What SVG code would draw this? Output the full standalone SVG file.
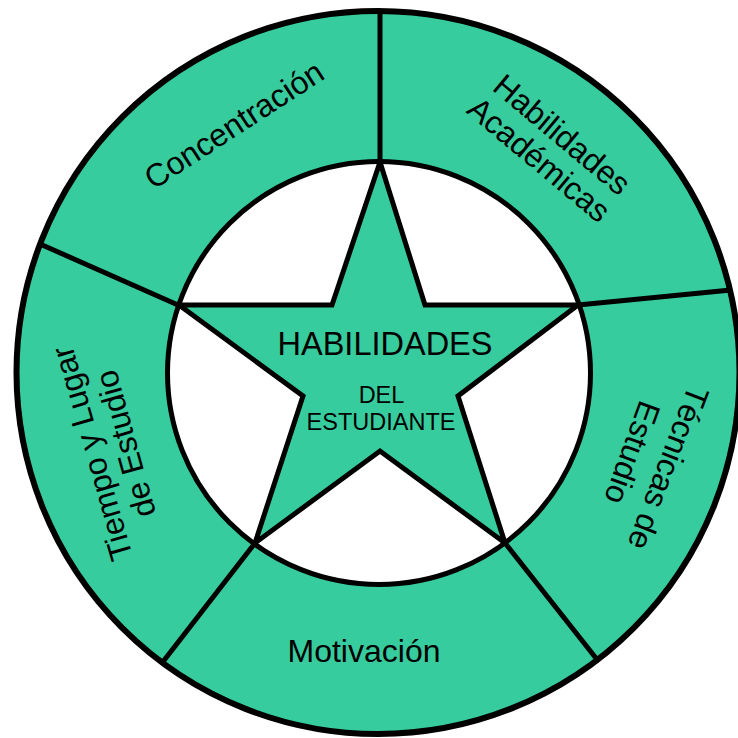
<svg xmlns="http://www.w3.org/2000/svg" width="738" height="738" viewBox="0 0 738 738">
  <style>
    .ring { fill: #37CC9D; stroke: #000; stroke-width: 6; }
    .hole { fill: #fff; stroke: #000; stroke-width: 5; }
    .star { fill: #37CC9D; stroke: #000; stroke-width: 5; stroke-linejoin: miter; }
    .div { stroke: #000; stroke-width: 5; fill: none; }
    text { font-family: "Liberation Sans", Arial, sans-serif; fill: #000; text-anchor: middle; }
    .big { font-size: 32px; }
    .title { font-size: 32.5px; }
    .small { font-size: 23.5px; }
  </style>
  <rect width="738" height="738" fill="#fff"/>
  <g id="ring">
    <circle class="ring" cx="378" cy="372.5" r="361.5"/>
    <circle class="hole" cx="379" cy="373" r="211.5"/>
  </g>
  <g id="connectors">
    <line class="div" x1="380" y1="162" x2="380" y2="10"/>
    <line class="div" x1="178" y1="305" x2="40" y2="244"/>
    <line class="div" x1="578" y1="305" x2="731" y2="290"/>
    <line class="div" x1="255" y1="543" x2="162" y2="663"/>
    <line class="div" x1="505" y1="543" x2="599" y2="662"/>
  </g>
  <g id="star">
    <path class="star" d="M380,162 L425,305 L578,305 L458,396 L505,543 L380,451 L255,543 L303,396 L179,305 L332,305 Z"/>
    <text class="title" x="385" y="355">HABILIDADES</text>
    <text class="small" x="381.5" y="403">DEL</text>
    <text class="small" x="381" y="430">ESTUDIANTE</text>
  </g>
  <g id="concentracion">
    <text class="big" transform="translate(240,134) rotate(-33)">Concentración</text>
  </g>
  <g id="habilidades-academicas">
    <text class="big" transform="translate(555,143) rotate(40)">Habilidades</text>
    <text class="big" transform="translate(532,168) rotate(40)">Académicas</text>
  </g>
  <g id="tecnicas">
    <text class="big" transform="translate(658,464) rotate(111)">Técnicas de</text>
    <text class="big" transform="translate(622,449) rotate(110)">Estudio</text>
  </g>
  <g id="motivacion">
    <text class="big" x="364" y="662">Motivación</text>
  </g>
  <g id="tiempo">
    <text class="big" transform="translate(102.5,450.5) rotate(-106)">Tiempo y Lugar</text>
    <text class="big" transform="translate(136,441) rotate(-105.5)">de Estudio</text>
  </g>
</svg>
